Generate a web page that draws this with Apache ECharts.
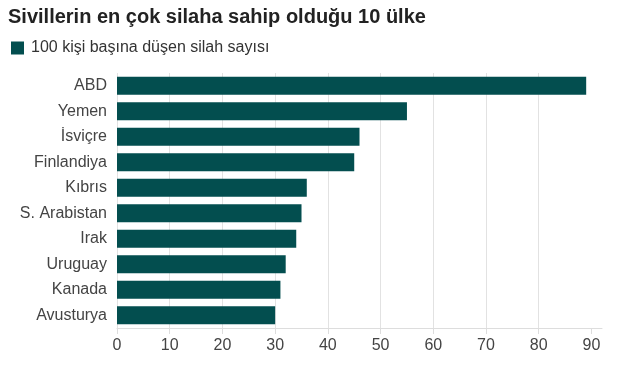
<!DOCTYPE html>
<html>
<head>
<meta charset="utf-8">
<script src="https://cdn.jsdelivr.net/npm/echarts@6/dist/echarts.min.js"></script>
<style>
html,body{margin:0;padding:0;background:#fff;}
#c{width:620px;height:370px;}
</style>
</head>
<body>
<div id="c"></div>
<script>
var categories = ["ABD", "Yemen", "İsviçre", "Finlandiya", "Kıbrıs", "S. Arabistan", "Irak", "Uruguay", "Kanada", "Avusturya"];
var values = [89, 55, 46, 45, 36, 35, 34, 32, 31, 30];
var tickValues = [0, 10, 20, 30, 40, 50, 60, 70, 80, 90];
var titleText = "Sivillerin en çok silaha sahip olduğu 10 ülke";
var seriesName = "100 kişi başına düşen silah sayısı";

var chart = echarts.init(document.getElementById('c'), null, {renderer: 'canvas'});
chart.setOption({
  animation: false,
  textStyle: {fontFamily: 'Liberation Sans, Arial, sans-serif'},
  title: {
    text: titleText,
    left: 8, top: 7,
    padding: 0,
    textStyle: {fontSize: 20, fontWeight: 'bold', color: '#222222', fontFamily: 'Liberation Sans, Arial, sans-serif'}
  },
  legend: {
    data: [seriesName],
    left: 11, top: 40,
    padding: 0,
    itemWidth: 13, itemHeight: 13,
    itemGap: 8,
    icon: 'rect',
    textStyle: {fontSize: 16, color: '#333333', fontFamily: 'Liberation Sans, Arial, sans-serif', padding: [0,0,0,2]}
  },
  grid: {left: 117, right: 18, top: 73, bottom: 42, containLabel: false},
  xAxis: {
    type: 'value',
    min: 0, max: 92, interval: 10,
    axisLine: {show: true, lineStyle: {color: '#dddddd', width: 1}},
    axisTick: {show: true, length: 6, lineStyle: {color: '#dddddd'}, customValues: tickValues},
    axisLabel: {fontSize: 16, color: '#444444', margin: 10, customValues: tickValues},
    splitLine: {show: true, lineStyle: {color: '#e2e2e2', width: 1}, showMaxLine: false}
  },
  yAxis: {
    type: 'category',
    data: categories,
    inverse: true,
    axisLine: {show: false},
    axisTick: {show: false},
    axisLabel: {fontSize: 16, color: '#444444', margin: 10}
  },
  series: [{
    name: seriesName,
    type: 'bar',
    data: values,
    barCategoryGap: '29%',
    itemStyle: {color: '#034e4f'}
  }]
});
</script>
</body>
</html>
